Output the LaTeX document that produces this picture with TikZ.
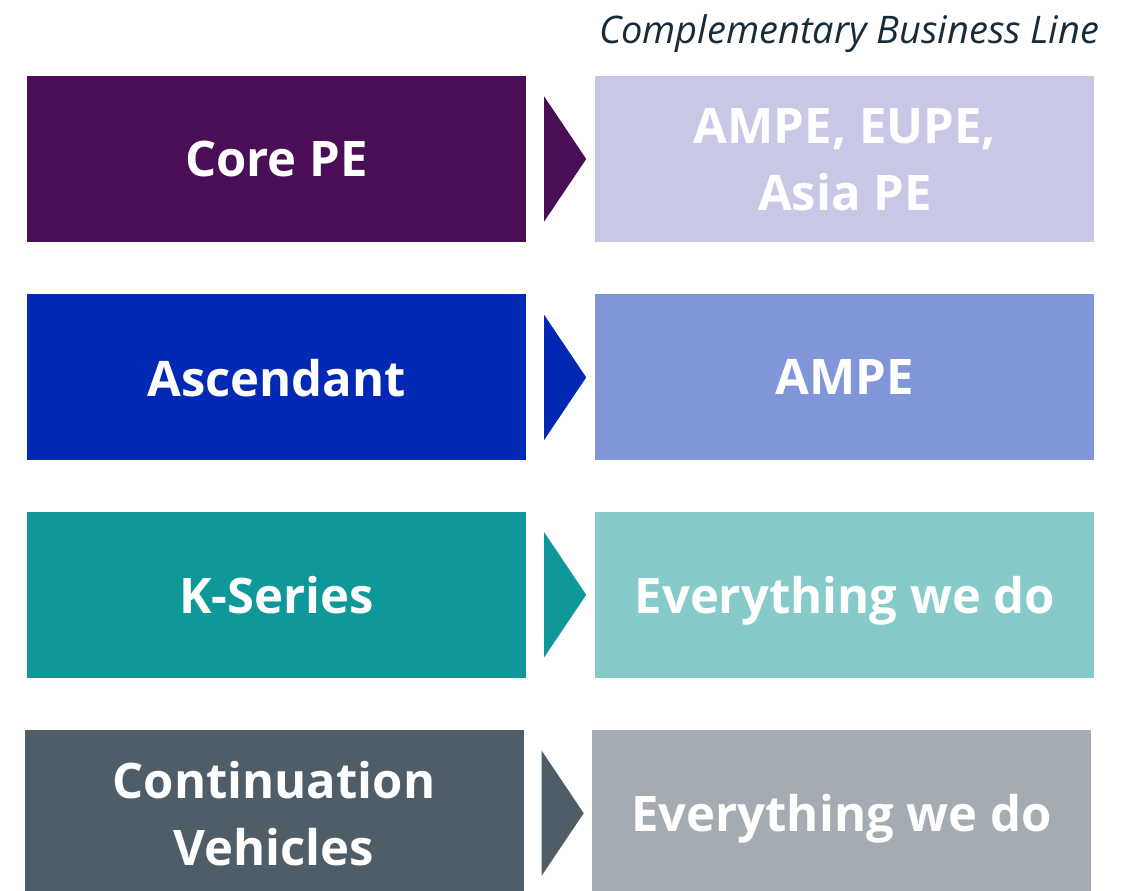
\documentclass[tikz,border=0pt]{standalone}
\usepackage{fontspec}
\setmainfont{Open Sans}
\usepackage{tikz}
\usetikzlibrary{positioning}
\definecolor{corepurple}{RGB}{74, 14, 86}
\definecolor{corelight}{RGB}{200, 200, 230}
\definecolor{ascblue}{RGB}{2, 41, 180}
\definecolor{asclight}{RGB}{128, 150, 216}
\definecolor{kteal}{RGB}{14, 152, 154}
\definecolor{klight}{RGB}{134, 202, 202}
\definecolor{contgrey}{RGB}{78, 93, 103}
\definecolor{contlight}{RGB}{165, 171, 178}
\definecolor{titlenavy}{RGB}{22, 44, 58}

\begin{document}
\begin{tikzpicture}[
    x=1pt, y=-1pt,
    node distance=52pt and 69pt,
    fundbox/.style={rectangle, minimum width=499pt, minimum height=166pt, inner sep=0pt, align=center, text=white,
      text depth=0pt, font=\fontsize{49}{67}\selectfont\bfseries},
    chevron/.style={draw=none}
  ]
    \useasboundingbox (0,0) rectangle (1136,891);

    \node (title) [anchor=base east, text=titlenavy, font=\fontsize{38}{42}\selectfont\itshape] at (1103,44) {Complementary Business Line};

    \node (core) [fundbox, fill=corepurple] at (276.5,159) {Core PE};
    \node (asc) [fundbox, fill=ascblue, below=52pt of core] {Ascendant};
    \node (kser) [fundbox, fill=kteal, below=51pt of asc] {K-Series};
    \node (cont) [fundbox, fill=contgrey, below=52pt of kser, xshift=-2.5pt] {Continuation\\Vehicles};

    \node (corecbl) [fundbox, fill=corelight, right=of core] {AMPE, EUPE,\\Asia PE};
    \node (asccbl) [fundbox, fill=asclight, right=of asc] {AMPE};
    \node (kcbl) [fundbox, fill=klight, right=of kser] {Everything we do};
    \node (contcbl) [fundbox, fill=contlight, right=68pt of cont] {Everything we do};

    % chevrons between the columns
    \foreach \src/\col in {core/corepurple, asc/ascblue, kser/kteal, cont/contgrey}
      \fill[\col, chevron] ([xshift=18pt, yshift=62.5pt]\src.east) -- ([xshift=60pt]\src.east)
        -- ([xshift=18pt, yshift=-62.5pt]\src.east) -- cycle;
  \end{tikzpicture}
\end{document}
